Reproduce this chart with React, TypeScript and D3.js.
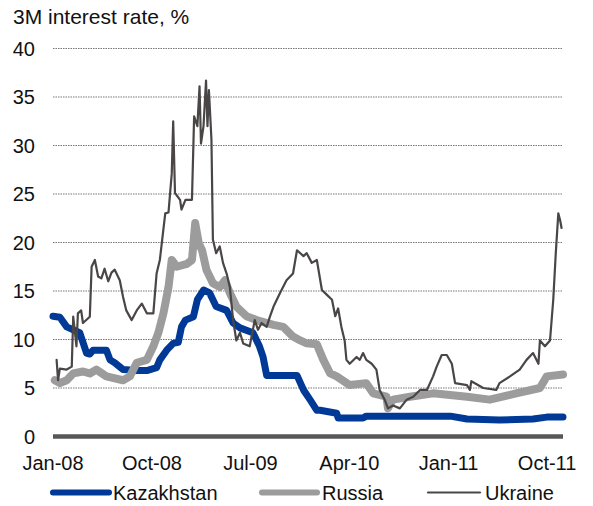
import React from "react";
import * as d3 from "d3";

const title = "3M interest rate, %";
const yTicks = [0, 5, 10, 15, 20, 25, 30, 35, 40];
const xTickDates = ["2008-01-01", "2008-10-01", "2009-07-01", "2010-04-01", "2011-01-01", "2011-10-01"];
const xTickLabels = ["Jan-08", "Oct-08", "Jul-09", "Apr-10", "Jan-11", "Oct-11"];
const seriesNames = ["Kazakhstan", "Russia", "Ukraine"];

const kazDates = ["2008-01-01","2008-01-20","2008-02-08","2008-03-15","2008-04-03","2008-04-12","2008-04-21","2008-05-28","2008-06-07","2008-06-20","2008-07-13","2008-08-20","2008-09-17","2008-10-14","2008-10-23","2008-11-11","2008-11-29","2008-12-13","2008-12-22","2009-01-02","2009-01-24","2009-02-04","2009-02-21","2009-03-10","2009-03-28","2009-04-26","2009-05-14","2009-06-02","2009-07-08","2009-07-26","2009-08-05","2009-08-15","2009-09-03","2009-11-07","2009-11-25","2009-12-13","2010-01-01","2010-01-10","2010-02-25","2010-03-01","2010-05-09","2010-05-18","2011-01-06","2011-02-21","2011-05-22","2011-08-23","2011-09-30","2011-11-14"];
const kazValues = [12.4,12.3,11.3,10.7,8.6,8.5,8.9,8.9,7.9,7.6,6.9,6.8,6.8,7.1,7.9,8.9,9.6,9.7,11.3,12.0,12.35,14.1,15.1,14.8,13.4,13.0,11.7,11.2,10.7,9.3,8.2,6.3,6.3,6.3,4.8,3.8,2.7,2.7,2.4,1.9,1.9,2.1,2.1,1.8,1.7,1.8,2.0,2.0];

const rusDates = ["2008-01-06","2008-01-20","2008-02-08","2008-02-26","2008-03-24","2008-04-12","2008-04-30","2008-05-28","2008-07-13","2008-08-01","2008-08-20","2008-09-17","2008-10-05","2008-10-19","2008-11-02","2008-11-16","2008-11-25","2008-12-09","2009-01-06","2009-01-20","2009-01-29","2009-02-08","2009-02-17","2009-03-01","2009-03-19","2009-04-07","2009-04-21","2009-05-05","2009-05-23","2009-06-20","2009-07-18","2009-09-03","2009-09-30","2009-10-27","2009-11-16","2009-12-04","2010-01-01","2010-01-19","2010-02-07","2010-02-25","2010-04-02","2010-05-18","2010-06-06","2010-07-13","2010-07-17","2010-07-31","2010-09-16","2010-11-19","2011-02-21","2011-04-25","2011-07-07","2011-09-11","2011-09-30","2011-11-14"];
const rusValues = [5.8,5.5,5.8,6.5,6.7,6.5,6.9,6.2,5.8,6.2,7.6,7.9,9.3,10.7,12.7,15.4,18.2,17.5,17.8,18.2,22.0,19.9,19.2,17.2,15.8,15.4,16.1,14.8,13.4,12.4,12.0,11.5,11.3,10.3,9.9,9.6,9.5,7.9,6.5,6.2,5.3,5.5,4.45,4.1,2.9,3.8,4.1,4.45,4.1,3.8,4.45,5.0,6.2,6.4];

const ukrDates = ["2008-01-11","2008-01-15","2008-01-20","2008-02-08","2008-02-22","2008-02-26","2008-03-06","2008-03-10","2008-03-19","2008-03-24","2008-04-12","2008-04-17","2008-04-26","2008-05-05","2008-05-14","2008-05-23","2008-06-02","2008-06-11","2008-06-20","2008-07-04","2008-07-13","2008-07-22","2008-08-06","2008-08-20","2008-09-03","2008-09-17","2008-10-05","2008-10-14","2008-10-23","2008-11-07","2008-11-16","2008-11-25","2008-11-29","2008-12-04","2008-12-18","2008-12-22","2009-01-02","2009-01-20","2009-01-26","2009-02-04","2009-02-10","2009-02-14","2009-02-21","2009-02-28","2009-03-04","2009-03-08","2009-03-15","2009-03-19","2009-03-28","2009-04-07","2009-04-16","2009-04-26","2009-05-05","2009-05-14","2009-05-23","2009-06-02","2009-06-11","2009-06-29","2009-07-13","2009-07-22","2009-08-01","2009-08-15","2009-08-24","2009-09-03","2009-09-21","2009-10-09","2009-10-27","2009-11-07","2009-11-25","2009-12-04","2009-12-18","2010-01-01","2010-01-15","2010-01-29","2010-02-12","2010-02-21","2010-03-01","2010-03-10","2010-03-19","2010-03-24","2010-04-02","2010-04-21","2010-04-30","2010-05-09","2010-05-18","2010-06-02","2010-06-15","2010-06-24","2010-07-08","2010-07-17","2010-07-31","2010-08-19","2010-09-07","2010-09-25","2010-10-14","2010-11-02","2010-11-19","2010-11-29","2010-12-13","2010-12-27","2011-01-10","2011-01-19","2011-02-21","2011-03-01","2011-03-05","2011-04-07","2011-05-13","2011-05-22","2011-06-20","2011-07-17","2011-08-05","2011-08-23","2011-09-07","2011-09-11","2011-09-25","2011-10-09","2011-10-18","2011-10-25","2011-11-01","2011-11-06","2011-11-10"];
const ukrValues = [7.9,5.8,7.0,6.9,7.2,12.35,9.3,12.7,13.0,11.7,12.35,17.5,18.2,16.5,16.3,17.3,16.0,16.9,17.2,16.1,14.4,13.0,12.0,13.0,13.7,12.7,12.7,16.8,18.2,23.0,23.1,27.1,32.5,25.1,24.4,23.4,24.4,24.4,33.0,32.0,36.1,30.2,32.0,36.7,32.0,35.7,30.6,20.3,18.9,19.6,17.9,16.8,15.4,12.0,9.9,10.7,9.6,9.3,12.0,11.0,11.7,11.3,12.35,13.4,14.8,16.1,16.8,19.2,18.6,18.9,17.9,18.2,15.1,14.6,14.1,12.4,13.2,11.3,9.9,7.9,7.5,8.2,7.9,8.6,7.9,7.5,6.9,4.8,3.8,2.9,3.2,2.9,3.8,4.1,4.8,4.8,6.2,7.2,8.4,8.4,7.5,5.5,5.3,4.8,5.7,5.0,4.8,5.5,6.2,6.9,7.9,8.6,7.5,9.9,9.3,9.9,14.1,18.9,23.0,22.3,21.5];

const colors = ["#003a96", "#9c9c9c", "#4a4646"];
const widths = [7, 8, 2.2];

export default function App() {
  const W = 593, H = 506;
  const parse = d3.timeParse("%Y-%m-%d");
  const x = d3.scaleTime()
    .domain([parse("2008-01-01")!, parse("2011-11-14")!])
    .range([53, 563]);
  const y = d3.scaleLinear().domain([0, 40]).range([436.5, 48.5]);
  const font = "'Liberation Sans', Arial, sans-serif";

  const series = [
    kazDates.map((d, i) => [parse(d)!, kazValues[i]] as [Date, number]),
    rusDates.map((d, i) => [parse(d)!, rusValues[i]] as [Date, number]),
    ukrDates.map((d, i) => [parse(d)!, ukrValues[i]] as [Date, number]),
  ];
  const line = d3.line<[Date, number]>().x(d => x(d[0])).y(d => y(d[1]));

  const legendX = [[53, 109, 113], [262, 317, 322], [428, 480, 485]];

  return (
    <svg width={W} height={H} style={{ position: "absolute", left: 0, top: 0 }}>
      <rect width={W} height={H} fill="#fff" />
      <text x={13} y={23.5} fontFamily={font} fontSize={21} fill="#111">{title}</text>
      {yTicks.filter(t => t > 0).map(t => (
        <line key={t} x1={53} x2={563} y1={y(t)} y2={y(t)} stroke="#777" strokeWidth={1} strokeDasharray="1.5,1" />
      ))}
      {yTicks.map(t => (
        <text key={t} x={35} y={y(t)} dy="0.35em" textAnchor="end" fontFamily={font} fontSize={20} fill="#111">{t}</text>
      ))}
      <line x1={53} x2={563} y1={y(0)} y2={y(0)} stroke="#575757" strokeWidth={4.5} />
      {xTickDates.map((d, i) => (
        <text key={d} x={x(parse(d)!)} y={470} textAnchor="middle" fontFamily={font} fontSize={20} fill="#111">{xTickLabels[i]}</text>
      ))}
      {series.map((s, i) => (
        <path key={i} d={line(s)!} fill="none" stroke={colors[i]} strokeWidth={widths[i]} strokeLinejoin="round" strokeLinecap="round" />
      ))}
      {seriesNames.map((n, i) => (
        <g key={n}>
          <line x1={legendX[i][0]} x2={legendX[i][1]} y1={492.5} y2={492.5} stroke={colors[i]} strokeWidth={i === 2 ? 2.2 : 6} strokeLinecap="round" />
          <text x={legendX[i][2]} y={500} fontFamily={font} fontSize={20} fill="#111">{n}</text>
        </g>
      ))}
    </svg>
  );
}
